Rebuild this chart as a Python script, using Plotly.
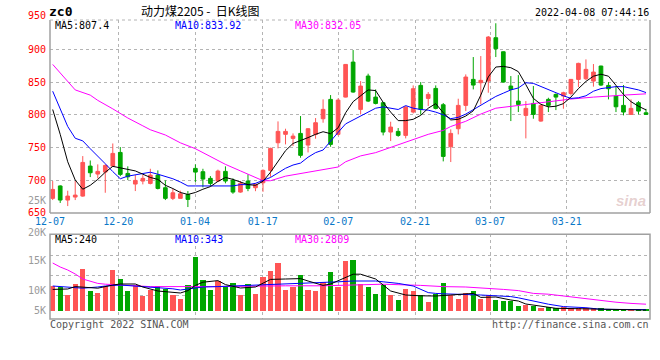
import plotly.graph_objects as go

# ---------------- data ----------------
DATES = ["12-07", "12-20", "01-04", "01-17", "02-07", "02-21", "03-07", "03-21"]
DATE_IDX = [0, 9, 19, 28, 38, 48, 58, 68]

OPEN = [672, 691, 669.4, 674, 675.5, 721.4, 709.2, 712.2, 721.4, 742.3,
        710.2, 693.9, 698.5, 694.9, 707.6, 688.3, 672, 672, 678, 717.9,
        712.8, 702.6, 698.5, 713.3, 699.5, 681.6, 698.5, 688.3, 695.9, 714.8,
        757.1, 770, 763.8, 771.4, 753.6, 769.9, 793.9, 823.5, 769.9, 827,
        880.6, 808.2, 859.2, 827, 818.4, 773.5, 774.5, 768.4, 804.1, 844.9,
        825, 840.3, 815.3, 751, 778.6, 814.3, 854.1, 849, 851.5, 917.9,
        896.4, 843.9, 820.9, 799, 817.3, 790.3, 823.5, 831.1, 828.6, 832.6,
        854.1, 855.1, 851.5, 874.5, 844.9, 828.6, 814.3, 800.5, 818.4, 803]
HIGH = [698.5, 692, 683.7, 698.5, 736.7, 730, 724, 724, 756, 750.5,
        721, 707.6, 707.6, 717.3, 714.8, 699.5, 686.7, 683.7, 683.2, 724,
        717.3, 706.1, 716, 721, 702.6, 698.5, 708.7, 695, 716.3, 749.5,
        789.8, 778.6, 771.4, 798, 779.6, 794.9, 823.5, 830.1, 825, 877.5,
        899, 851.5, 862.8, 838.8, 818.9, 789.3, 779.6, 813.3, 844.9, 850,
        834.7, 844.9, 817.9, 777.6, 824.5, 861.7, 888.3, 889.8, 920.4, 940,
        896.9, 859.2, 860.7, 820.9, 843.9, 815.8, 826, 832.6, 835.2, 854.6,
        879.6, 884.7, 877.6, 875, 850, 844, 845.4, 823.5, 820.9, 809]
LOW = [669.4, 665, 660.2, 669.4, 674.5, 704.6, 702.6, 680.6, 720.4, 706,
       700, 683.2, 693.4, 693.4, 685.7, 669.4, 669.4, 672, 658.7, 697,
       688.8, 690.8, 697, 695, 679, 680.6, 683, 683, 682.1, 705,
       748.5, 754.6, 752, 734.2, 742.3, 763.3, 787.8, 751, 768.4, 826.5,
       833.7, 800.5, 819.4, 815.8, 768.4, 759.7, 766.3, 763.8, 802, 800,
       813.3, 808.2, 728.6, 727.6, 769.9, 805.6, 838.8, 815.8, 833.7, 888.3,
       849, 790.3, 804.1, 763.8, 793.9, 789.3, 804.1, 807.1, 809.2, 829.6,
       842.3, 853.1, 843, 843.9, 823.5, 804.1, 799, 800, 800.5, 800]
CLOSE = [685.7, 669.4, 675.5, 677, 727, 711.2, 713.3, 722.4, 740.8, 708.7,
         705, 699.5, 702.6, 707.6, 687.2, 672, 680.6, 679, 670.4, 712.2,
         701.5, 694.9, 713.8, 698.5, 681.6, 694.9, 687.2, 693.4, 714.8, 748.5,
         774.5, 774.5, 767.3, 737.8, 778.6, 787.8, 808.2, 754.6, 822.4, 877,
         834.7, 843.9, 820.9, 817.3, 773.5, 781.1, 768.4, 811.7, 839.8, 808.2,
         831.1, 809.7, 736.2, 771.4, 814.3, 857.7, 845.4, 852.6, 918.9, 901,
         850, 838.8, 815.8, 809.7, 800.5, 814.3, 814.3, 827, 833.7, 854.1,
         878.6, 869.4, 865.3, 845.4, 839.8, 812.2, 804.1, 809.7, 805.6, 800.5]
VOLUME = [6175, 5825, 3925, 6675, 10425, 4925, 4425, 6175, 10175, 8000,
          5000, 6500, 3575, 5075, 6250, 5500, 3825, 3000, 6500, 13325,
          7750, 5250, 7325, 6075, 6925, 4000, 6750, 4250, 8325, 10000,
          12000, 5250, 6000, 9000, 5250, 4825, 7175, 9675, 5825, 12325,
          12575, 6675, 6000, 4250, 6500, 3825, 2750, 5500, 5000, 4000,
          2175, 4175, 6925, 4000, 3000, 4425, 5000, 3000, 4000, 2750,
          2500, 2500, 1250, 1500, 1250, 750, 875, 625, 1000, 750,
          750, 625, 750, 625, 375, 250, 250, 250, 300, 500]

MA5 = [808, 770, 728, 700, 686, 692, 701, 712, 721, 719,
       717, 714, 709, 704, 701, 692, 687, 681, 678, 681,
       686, 690, 698, 704, 701, 697, 693, 692, 698, 712,
       728, 745, 756, 760, 765, 770, 774, 771, 780, 803,
       820, 829, 838, 837, 819, 804, 791, 791, 793, 799,
       810, 817, 803, 792, 793, 798, 806, 830, 858, 873,
       874, 872, 866, 846, 825, 816, 812, 813, 817, 827,
       840, 851, 859, 862, 859, 845, 831, 820, 813, 807.4]
MA10 = [836, 810, 782, 764, 760, 748, 737, 725, 713, 702,
        706, 708, 711, 712, 709, 706, 702, 697, 691, 691,
        691, 691, 691, 691, 691, 693, 693, 695, 699, 704,
        711, 718, 723, 726, 735, 742, 746, 760, 773, 786,
        792, 798, 805, 810, 812, 810, 808, 814, 810, 808,
        807, 804, 800, 794, 796, 801, 808, 814, 822, 828,
        833, 838, 841, 849, 848, 843, 838, 834, 829, 825,
        826, 829, 836, 840, 842, 843, 843, 841, 838, 833.92]
MA30_IDX = [0, 3, 5, 6, 8, 10, 12, 13, 15, 17, 19, 20, 22, 23, 25, 27, 28, 29, 30, 31,
            34, 36, 38, 39, 41, 43, 44, 46, 48, 50, 52, 53, 55, 57, 59, 61, 63, 65, 67,
            69, 72, 74, 76, 79]
MA30 = [877, 838, 830, 822, 809, 795, 783, 777, 769, 757, 748, 742, 730, 724, 714, 704,
        699, 699, 702, 706, 712, 716, 720, 728, 737, 742, 746, 754, 762, 770, 776, 782,
        790, 801, 810, 813, 816, 819, 821, 824, 827, 829, 830, 832]

VMA5_IDX = [0, 2, 3, 5, 6, 8, 9, 11, 12, 14, 16, 17, 18, 19, 20, 22, 23, 25, 27, 29, 31,
            33, 34, 36, 37, 39, 40, 41, 43, 45, 47, 49, 51, 53, 55, 56, 57, 59, 61, 62,
            63, 65, 67, 70, 73, 77, 79]
VMA5 = [5400, 5500, 6100, 5900, 5700, 6500, 6750, 6750, 6000, 5000, 4600, 4500, 5100,
        6400, 7200, 7600, 6600, 5750, 6000, 7900, 8000, 8100, 7500, 6400, 6750, 8500,
        9200, 9200, 8000, 5000, 4000, 3800, 3750, 4000, 4250, 4400, 3400, 3500, 2750,
        2500, 1750, 1200, 675, 575, 500, 325, 240]
VMA10_IDX = [0, 2, 4, 6, 7, 9, 11, 13, 16, 17, 19, 20, 22, 25, 28, 31, 34, 36, 38, 40,
             43, 44, 46, 48, 49, 50, 51, 52, 57, 59, 61, 62, 64, 66, 68, 71, 73, 77, 79]
VMA10 = [6250, 5900, 5700, 6000, 6250, 6500, 6250, 5900, 5550, 5250, 5750, 6000, 6100,
         6300, 6500, 6700, 6900, 7000, 7300, 7500, 7500, 7300, 6900, 6250, 5500, 4600,
         4400, 4300, 4000, 3800, 3600, 3300, 2500, 1700, 1100, 825, 425, 250, 343]
VMA30_IDX = [0, 1, 2, 3, 4, 5, 6, 7, 9, 13, 22, 27, 31, 36, 40, 44, 49, 52, 55, 58, 60,
             62, 64, 66, 68, 71, 73, 75, 77, 79]
VMA30 = [12000, 11000, 10250, 9250, 8000, 7400, 6900, 6700, 6500, 6100, 6100, 6250, 6300,
         6300, 6500, 6700, 6400, 6100, 6000, 5750, 5400, 5100, 4400, 4200, 3750, 3000,
         2500, 2200, 1900, 1700]

PRICE_TICKS = [650, 700, 750, 800, 850, 900]
VOL_LABELS = ["25K", "20K", "15K", "10K", "5K"]

# ---------------- styling / layout ----------------
RED = "#ff5555"
GREEN = "#00a600"
BLUE = "#0000ff"
MAG = "#ff00ff"
DATE_BLUE = "#0a78c8"
GRID = "#b4b4b4"
FRAME = "#a0a0a0"
MONO = "DejaVu Sans Mono"
CJK = "Noto Sans CJK SC"

W, H = 660, 360
L, R, T, B = 50, 650, 20, 319  # plot area in pixels


def px(x):
    return (x - L) / (R - L)


def py(y):
    return (B - y) / (B - T)


MAIN_BOTTOM = py(213)
VOL_TOP = py(234.3)
XR = [-0.36, 79.53]
DATE_TICK_POS = [-0.36, 8.73, 18.95, 27.96, 38.03, 48.24, 58.23, 68.44]

X = list(range(len(CLOSE)))
bar_colors = [RED if c >= o else GREEN for o, c in zip(OPEN, CLOSE)]

fig = go.Figure()
fig.add_trace(go.Candlestick(
    x=X, open=OPEN, high=HIGH, low=LOW, close=CLOSE,
    increasing=dict(line=dict(color=RED, width=1), fillcolor=RED),
    decreasing=dict(line=dict(color=GREEN, width=1), fillcolor=GREEN),
    whiskerwidth=0, showlegend=False, hoverinfo="skip", xaxis="x", yaxis="y"))
fig.add_trace(go.Scatter(x=MA30_IDX, y=MA30, mode="lines", line=dict(color=MAG, width=1),
                         showlegend=False, hoverinfo="skip", xaxis="x", yaxis="y"))
fig.add_trace(go.Scatter(x=X, y=MA10, mode="lines", line=dict(color=BLUE, width=1),
                         showlegend=False, hoverinfo="skip", xaxis="x", yaxis="y"))
fig.add_trace(go.Scatter(x=X, y=MA5, mode="lines", line=dict(color="#000000", width=1),
                         showlegend=False, hoverinfo="skip", xaxis="x", yaxis="y"))

fig.add_trace(go.Bar(x=X, y=VOLUME, marker=dict(color=bar_colors, line=dict(width=0)),
                     width=0.7, showlegend=False, hoverinfo="skip", xaxis="x2", yaxis="y2"))
fig.add_trace(go.Scatter(x=VMA30_IDX, y=VMA30, mode="lines", line=dict(color=MAG, width=1),
                         showlegend=False, hoverinfo="skip", xaxis="x2", yaxis="y2"))
fig.add_trace(go.Scatter(x=VMA10_IDX, y=VMA10, mode="lines", line=dict(color=BLUE, width=1),
                         showlegend=False, hoverinfo="skip", xaxis="x2", yaxis="y2"))
fig.add_trace(go.Scatter(x=VMA5_IDX, y=VMA5, mode="lines", line=dict(color="#000000", width=1),
                         showlegend=False, hoverinfo="skip", xaxis="x2", yaxis="y2"))

axis_common = dict(showgrid=True, gridcolor=GRID, griddash="dot", gridwidth=1,
                   zeroline=False, showline=False, ticks="", fixedrange=True)

fig.update_layout(
    width=W, height=H,
    margin=dict(l=L, r=W - R, t=T, b=H - B, pad=0),
    paper_bgcolor="white", plot_bgcolor="white",
    showlegend=False, bargap=0,
    xaxis=dict(domain=[0, 1], range=XR, anchor="y", tickvals=DATE_TICK_POS, ticktext=DATES,
               tickfont=dict(family=MONO, size=10, color=DATE_BLUE),
               rangeslider=dict(visible=False), ticklabelstandoff=1, **axis_common),
    yaxis=dict(domain=[MAIN_BOTTOM, 1], range=[649.6, 945], anchor="x", tickvals=PRICE_TICKS,
               tickfont=dict(family=MONO, size=10, color="#ff0000"), ticklabelstandoff=3,
               **axis_common),
    xaxis2=dict(domain=[0, 1], range=XR, anchor="y2", tickvals=DATE_TICK_POS,
                showticklabels=False, **axis_common),
    yaxis2=dict(domain=[0, VOL_TOP], range=[-2000, 19175], anchor="x2",
                tickvals=[4000, 9000, 14000], showticklabels=False, **axis_common),
)

# frames
shapes = [
    dict(type="line", xref="paper", yref="paper", x0=0, x1=0, y0=MAIN_BOTTOM, y1=1,
         line=dict(color=FRAME, width=1.5)),
    dict(type="line", xref="paper", yref="paper", x0=1, x1=1, y0=MAIN_BOTTOM, y1=1,
         line=dict(color=FRAME, width=1.5)),
    dict(type="line", xref="paper", yref="paper", x0=0, x1=1, y0=MAIN_BOTTOM, y1=MAIN_BOTTOM,
         line=dict(color=FRAME, width=1.5)),
    dict(type="line", xref="paper", yref="paper", x0=0, x1=1, y0=1, y1=1,
         line=dict(color=GRID, width=1, dash="dot")),
    dict(type="rect", xref="paper", yref="paper", x0=0, x1=1, y0=0, y1=VOL_TOP,
         line=dict(color=FRAME, width=1.5), fillcolor="rgba(0,0,0,0)"),
]
fig.update_layout(shapes=shapes)

ann = []


def text(x, y, s, color="#000", size=10, family=MONO, xanchor="left", bold=False):
    if bold:
        s = "<b>" + s + "</b>"
    ann.append(dict(x=px(x), y=py(y), xref="paper", yref="paper", text=s, showarrow=False,
                    xanchor=xanchor, yanchor="middle", borderpad=0,
                    font=dict(family=family, size=size, color=color)))


text(48, 11, "zc0", size=13, bold=True)
text(140, 10, "动力煤2205 -  日K线图", size=12, family=CJK)
text(650, 12, "2022-04-08 07:44:16", xanchor="right")
text(47, 15, "950", color="#ff0000", xanchor="right")
text(54, 25.5, "MA5:807.4")
text(174, 25.5, "MA10:833.92", color=BLUE)
text(294, 25.5, "MA30:832.05", color=MAG)
text(54, 239, "MA5:240")
text(174, 239, "MA10:343", color=BLUE)
text(294, 239, "MA30:2809", color=MAG)
for lab, yy in zip(VOL_LABELS, [200, 232.5, 260.7, 290, 310]):
    text(47, yy, lab, color="#9a9a9a", xanchor="right")
text(49, 324, "Copyright 2022 SINA.COM", color="#555555")
text(650, 324, "http://finance.sina.com.cn", color="#555555", xanchor="right")
ann.append(dict(x=px(648), y=py(200), xref="paper", yref="paper", text="<b><i>sina</i></b>",
                showarrow=False, xanchor="right", yanchor="middle",
                font=dict(family="Liberation Sans", size=15, color="rgba(200,150,150,0.45)")))
fig.update_layout(annotations=ann)

fig.write_html("out.html", config={"displayModeBar": False},
               post_script="document.body.style.margin='0px';")
